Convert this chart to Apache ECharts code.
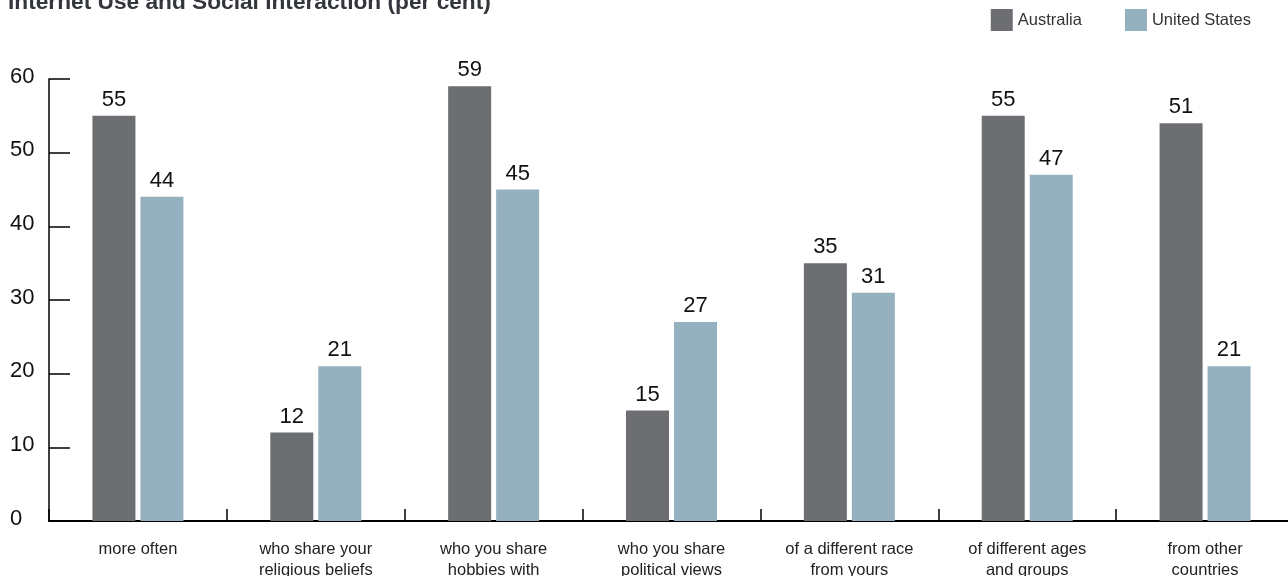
<!DOCTYPE html>
<html>
<head>
<meta charset="utf-8">
<script src="https://cdn.jsdelivr.net/npm/echarts@6/dist/echarts.min.js"></script>
<style>html,body{margin:0;padding:0;background:#fff}#c{width:1288px;height:576px}</style>
</head>
<body>
<div id="c"></div>
<script>
const titleText = 'Internet Use and Social Interaction (per cent)';
const categories = ['more often', 'who share your\nreligious beliefs', 'who you share\nhobbies with', 'who you share\npolitical views', 'of a different race\nfrom yours', 'of different ages\nand groups', 'from other\ncountries'];
const seriesNames = ['Australia', 'United States'];
// bar heights as drawn
const australia = [55, 12, 59, 15, 35, 55, 54];
const unitedStates = [44, 21, 45, 27, 31, 47, 21];
// values as printed above the bars
const australiaLabels = ['55', '12', '59', '15', '35', '55', '51'];
const unitedStatesLabels = ['44', '21', '45', '27', '31', '47', '21'];
const yTicks = [0, 10, 20, 30, 40, 50, 60];

const FONT = "'Liberation Sans', Arial, Helvetica, sans-serif";
const chart = echarts.init(document.getElementById('c'), null, {renderer: 'canvas'});
function labelCfg(arr) {
  return {
    show: true, position: 'top', distance: 5,
    fontFamily: FONT, fontSize: 22, color: '#111',
    formatter: p => arr[p.dataIndex]
  };
}
chart.setOption({
  animation: false,
  backgroundColor: '#fff',
  textStyle: {fontFamily: FONT},
  title: {
    text: titleText, left: 8, top: -9, padding: 0,
    textStyle: {fontFamily: FONT, fontSize: 22.7, fontWeight: 'bold', color: '#33363b'}
  },
  legend: {
    data: seriesNames, right: 37, top: 9, padding: 0,
    icon: 'rect', itemWidth: 22, itemHeight: 22, itemGap: 43, itemStyle: {borderWidth: 0},
    textStyle: {fontFamily: FONT, fontSize: 16.5, color: '#333'}
  },
  grid: {left: 49, width: 1245, top: 79, height: 442, containLabel: false, outerBoundsMode: 'none'},
  xAxis: {
    type: 'category', data: categories,
    axisLine: {show: true, lineStyle: {color: '#000', width: 2}},
    axisTick: {show: true, inside: true, length: 12, lineStyle: {color: '#000', width: 1.5}},
    axisLabel: {fontFamily: FONT, fontSize: 16.5, color: '#222', margin: 18, lineHeight: 21, interval: 0}
  },
  yAxis: {
    type: 'value', min: 0, max: 60, interval: 10,
    splitLine: {show: false},
    axisLine: {show: true, lineStyle: {color: '#000', width: 1.5}},
    axisTick: {show: true, inside: true, length: 21, lineStyle: {color: '#000', width: 1.5}},
    axisLabel: {
      fontFamily: FONT, fontSize: 22, color: '#111', align: 'left', margin: 39,
      verticalAlign: 'bottom', lineHeight: 5,
      formatter: v => yTicks.includes(v) ? String(v) : ''
    }
  },
  series: [
    {name: seriesNames[0], type: 'bar', data: australia, barWidth: 43, barGap: '11.6%',
     itemStyle: {color: '#6d6e72'}, label: labelCfg(australiaLabels)},
    {name: seriesNames[1], type: 'bar', data: unitedStates, barWidth: 43, barGap: '11.6%',
     itemStyle: {color: '#95b0bf'}, label: labelCfg(unitedStatesLabels)}
  ]
});
</script>
</body>
</html>
